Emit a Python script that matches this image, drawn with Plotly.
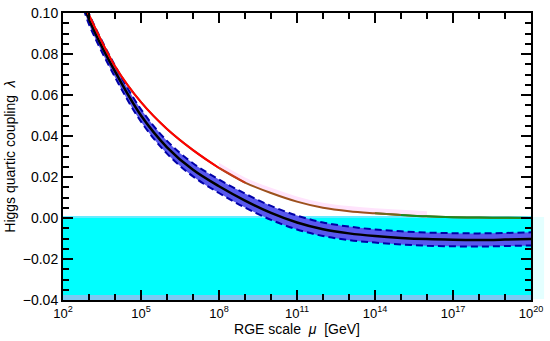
import plotly.graph_objects as go

# ---- data ----
log_mu = [2.8, 3, 4, 5, 6, 7, 8, 9, 10, 11, 12, 13, 14, 15, 16, 17, 18, 19, 20]
lam_central = [0.1045, 0.097, 0.0715, 0.050, 0.0345, 0.0235, 0.0155, 0.0085, 0.0025,
               -0.0022, -0.0055, -0.0075, -0.0088, -0.0097, -0.0103, -0.0106, -0.0107,
               -0.0105, -0.0102]
lam_err = [0.0025, 0.0026, 0.0028, 0.0030, 0.0031, 0.0032, 0.0033, 0.0034, 0.0034,
           0.0034, 0.0033, 0.0033, 0.0032, 0.0032, 0.0032, 0.0032, 0.0032, 0.0032, 0.0032]
lam_red = [0.1045, 0.099, 0.0740, 0.0565, 0.0434, 0.0331, 0.0244, 0.0173, 0.0122,
           0.0080, 0.0050, 0.0033, 0.0023, 0.0015, 0.0008, 0.0004, 0.0002, 0.0001, 0.0000]

x_tick_exp = [2, 5, 8, 11, 14, 17, 20]
y_tick_vals = [-0.04, -0.02, 0.00, 0.02, 0.04, 0.06, 0.08, 0.10]
y_tick_text = ["\u22120.04", "\u22120.02", "0.00", "0.02", "0.04", "0.06", "0.08", "0.10"]

mu = [10.0 ** v for v in log_mu]
upper = [c + e for c, e in zip(lam_central, lam_err)]
lower = [c - e for c, e in zip(lam_central, lam_err)]

fig = go.Figure()

# faint pink band around the red curve
idx_p = [i for i, v in enumerate(log_mu) if 8 <= v <= 16]
fig.add_trace(go.Scatter(x=[mu[i] for i in idx_p], y=[lam_red[i] + 0.0025 for i in idx_p],
                         mode="lines", line=dict(width=0, shape="spline"), hoverinfo="skip",
                         showlegend=False))
fig.add_trace(go.Scatter(x=[mu[i] for i in idx_p], y=[lam_red[i] - 0.0005 for i in idx_p],
                         mode="lines", line=dict(width=0, shape="spline"), fill="tonexty",
                         fillcolor="rgb(255,228,252)", hoverinfo="skip", showlegend=False))

# blue uncertainty band
fig.add_trace(go.Scatter(x=mu, y=upper, mode="lines", line=dict(width=0, shape="spline"),
                         hoverinfo="skip", showlegend=False))
fig.add_trace(go.Scatter(x=mu, y=lower, mode="lines", line=dict(width=0, shape="spline"),
                         fill="tonexty", fillcolor="rgb(88,88,238)", hoverinfo="skip",
                         showlegend=False))
# dashed edges
for arr in (upper, lower):
    fig.add_trace(go.Scatter(x=mu, y=arr, mode="lines",
                             line=dict(color="#0000a8", width=2, dash="7px,4px", shape="spline"),
                             showlegend=False))
# central line
fig.add_trace(go.Scatter(x=mu, y=lam_central, mode="lines",
                         line=dict(color="black", width=2.5, shape="spline"), showlegend=False))

# red -> brown -> green curve: full curve in brown, red and green parts on top
fig.add_trace(go.Scatter(x=mu, y=lam_red, mode="lines",
                         line=dict(color="#9c521c", width=2, shape="spline"), showlegend=False))
segments = [(2.8, 8, "#ff0000"), (8, 9, "#c63a18"), (14, 15, "#6e6a1e"), (15, 20, "#1e8a1e")]
for lo, hi, col in segments:
    idx = [i for i, v in enumerate(log_mu) if lo <= v <= hi]
    fig.add_trace(go.Scatter(x=[mu[i] for i in idx], y=[lam_red[i] for i in idx], mode="lines",
                             line=dict(color=col, width=2, shape="spline"), showlegend=False))

# cyan region below zero
fig.add_shape(type="rect", xref="paper", yref="y", x0=0, x1=1, y0=-0.04, y1=0.0,
              fillcolor="#00ffff", line_width=0, layer="below")
fig.add_shape(type="rect", xref="paper", yref="y", x0=0, x1=1, y0=0.0, y1=0.001,
              fillcolor="#66ecff", line_width=0, layer="below")
fig.add_shape(type="rect", xref="paper", yref="y", x0=0, x1=1, y0=-0.04, y1=-0.0375,
              fillcolor="#7ccaf2", line_width=0, layer="below")
fig.add_shape(type="rect", xref="paper", yref="y", x0=1.004, x1=1.028, y0=-0.0395, y1=0.0005,
              fillcolor="#e4ffff", line_width=0, layer="below")

fam = "Liberation Sans, Arial, sans-serif"
font_t = dict(family=fam, size=14, color="black")

fig.update_xaxes(type="log", range=[2, 20], automargin=False,
                 tickvals=[10.0 ** e for e in x_tick_exp],
                 ticktext=["10<sup>%d</sup>" % e for e in x_tick_exp],
                 ticks="inside", ticklen=10, tickwidth=1.5, tickcolor="black",
                 minor=dict(tickvals=[10.0 ** e for e in range(2, 21)], ticks="inside",
                            ticklen=6, tickwidth=1.5, tickcolor="black"),
                 showline=True, linecolor="black", linewidth=2, mirror="ticks",
                 showgrid=False, zeroline=False,
                 tickfont=dict(family=fam, size=13, color="black"),
                 title=dict(text="RGE scale  <i>\u03bc</i>  [GeV]", font=font_t, standoff=4))
fig.update_yaxes(range=[-0.04, 0.10], automargin=False, tickvals=y_tick_vals,
                 ticktext=y_tick_text,
                 ticks="inside", ticklen=10, tickwidth=1.5, tickcolor="black",
                 minor=dict(dtick=0.005, tick0=0, ticks="inside", ticklen=6, tickwidth=1.5,
                            tickcolor="black"),
                 showline=True, linecolor="black", linewidth=2, mirror="ticks",
                 showgrid=False, zeroline=False,
                 tickfont=dict(family=fam, size=14, color="black"),
                 title=dict(text="Higgs quartic coupling  <i>\u03bb</i>", font=font_t,
                            standoff=4))

fig.update_layout(width=550, height=341, margin=dict(l=63, r=19, t=13, b=41),
                  plot_bgcolor="white", paper_bgcolor="white", font=font_t,
                  showlegend=False, hovermode=False)

fig.write_html("out.html", config={"displayModeBar": False},
               post_script="document.body.style.margin='0';document.body.style.overflow='hidden';")
